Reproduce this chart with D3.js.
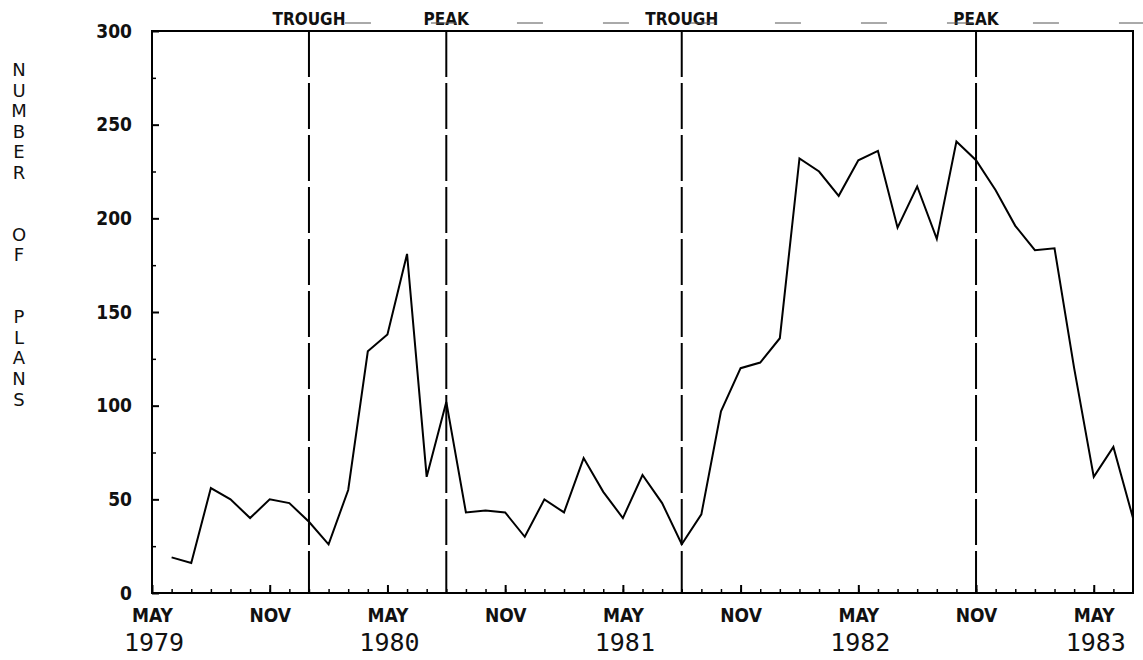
<!DOCTYPE html>
<html>
<head>
<meta charset="utf-8">
<script src="https://cdn.jsdelivr.net/npm/d3@7"></script>
<style>
  html, body { margin: 0; padding: 0; background: #fff; }
  svg { display: block; }
  .tick-lbl { font-family: "Liberation Sans Narrow", "DejaVu Sans Condensed", sans-serif; font-weight: bold; font-size: 19px; fill: #111; }
  .year-lbl { font-family: "DejaVu Sans Mono", monospace; font-size: 25px; fill: #111; }
  .ytitle { font-family: "DejaVu Sans", sans-serif; font-size: 18px; fill: #111; }
</style>
</head>
<body>
<script>
'use strict';

// monthly counts, Jun 1979 .. Jul 1983 (month index 1..50, 0 = May 1979)
const months = d3.range(1, 51);
const plans = [
  19, 16, 56, 50, 40, 50, 48, 38, 26, 55,
  129, 138, 181, 62, 102, 43, 44, 43, 30, 50,
  43, 72, 54, 40, 63, 48, 26, 42, 97, 120,
  123, 136, 232, 225, 212, 231, 236, 195, 217, 189,
  241, 231, 215, 196, 183, 184, 120, 62, 78, 40
];

// axis labels
const monthTicks = [0, 6, 12, 18, 24, 30, 36, 42, 48];
const monthTickLabels = ['MAY', 'NOV', 'MAY', 'NOV', 'MAY', 'NOV', 'MAY', 'NOV', 'MAY'];
const yearTicks = [0, 12, 24, 36, 48];
const yearLabels = ['1979', '1980', '1981', '1982', '1983'];
const yTicks = [0, 50, 100, 150, 200, 250, 300];

// business cycle turning points (month index)
const cycleMonths = [8, 15, 27, 42];
const cycleLabels = ['TROUGH', 'PEAK', 'TROUGH', 'PEAK'];

const yTitle = 'NUMBER  OF  PLANS';

const W = 1143, H = 660;
const M = { left: 152, right: 10, top: 31, bottom: 67 };

const x = d3.scaleLinear().domain([0, 50]).range([M.left, W - M.right]);
const y = d3.scaleLinear().domain([0, 300]).range([H - M.bottom, M.top]);

const svg = d3.select('body').append('svg').attr('width', W).attr('height', H);
svg.append('rect').attr('width', W).attr('height', H).attr('fill', '#fff');

// frame
svg.append('rect')
  .attr('x', x(0)).attr('y', y(300))
  .attr('width', x(50) - x(0)).attr('height', y(0) - y(300))
  .attr('fill', 'none').attr('stroke', '#000').attr('stroke-width', 2);

// y axis: major ticks with labels, minor ticks in between
const yAxis = d3.axisLeft(y).tickValues(yTicks).tickSize(-7).tickPadding(20).tickFormat(d3.format('d'));
const gy = svg.append('g').attr('transform', 'translate(' + x(0) + ',0)').call(yAxis);
gy.select('.domain').remove();
gy.selectAll('line').attr('stroke', '#000').attr('stroke-width', 2);
gy.selectAll('text').attr('class', 'tick-lbl').attr('fill', null);

const yMinor = d3.axisLeft(y).tickValues(d3.range(25, 300, 50)).tickSize(-4).tickFormat('');
const gym = svg.append('g').attr('transform', 'translate(' + x(0) + ',0)').call(yMinor);
gym.select('.domain').remove();
gym.selectAll('line').attr('stroke', '#000').attr('stroke-width', 1.5);

// x axis: monthly minor ticks, MAY/NOV major ticks
const xMinor = d3.axisBottom(x).tickValues(d3.range(1, 50)).tickSize(-4).tickFormat('');
const gxm = svg.append('g').attr('transform', 'translate(0,' + y(0) + ')').call(xMinor);
gxm.select('.domain').remove();
gxm.selectAll('line').attr('stroke', '#000').attr('stroke-width', 1.5);

const xAxis = d3.axisBottom(x).tickValues(monthTicks).tickSize(-8).tickPadding(16)
  .tickFormat((d, i) => monthTickLabels[i]);
const gx = svg.append('g').attr('transform', 'translate(0,' + y(0) + ')').call(xAxis);
gx.select('.domain').remove();
gx.selectAll('line').attr('stroke', '#000').attr('stroke-width', 2);
gx.selectAll('text').attr('class', 'tick-lbl').attr('fill', null).attr('dy', '0.35em').attr('y', 22);

svg.append('g').selectAll('text')
  .data(yearTicks)
  .enter()
  .append('text')
  .attr('class', 'year-lbl')
  .attr('x', (d) => x(d) + 2)
  .attr('y', y(0) + 58)
  .attr('text-anchor', 'middle')
  .text((d, i) => yearLabels[i]);

// y title, stacked letters
svg.append('g').selectAll('text')
  .data(yTitle.split(''))
  .enter()
  .append('text')
  .attr('class', 'ytitle')
  .attr('x', 19)
  .attr('y', (d, i) => 76 + i * 20.6)
  .attr('text-anchor', 'middle')
  .text((d) => d.trim());

// turning points
svg.append('g').selectAll('line')
  .data(cycleMonths)
  .enter()
  .append('line')
  .attr('x1', (d) => x(d)).attr('x2', (d) => x(d))
  .attr('y1', y(300)).attr('y2', y(0))
  .attr('stroke', '#000').attr('stroke-width', 2)
  .attr('stroke-dasharray', '46,6');

svg.append('g').selectAll('text')
  .data(cycleMonths)
  .enter()
  .append('text')
  .attr('class', 'tick-lbl')
  .attr('x', (d) => x(d))
  .attr('y', y(300) - 6)
  .attr('text-anchor', 'middle')
  .style('font-size', '17px')
  .text((d, i) => cycleLabels[i]);

// faint rule joining the labels above the frame
svg.append('line')
  .attr('x1', x(cycleMonths[0]) + 36).attr('x2', W)
  .attr('y1', y(300) - 8).attr('y2', y(300) - 8)
  .attr('stroke', '#555').attr('stroke-width', 1)
  .attr('stroke-dasharray', '26,60');

// series
const line = d3.line().x((d) => x(d[0])).y((d) => y(d[1]));
svg.append('path')
  .datum(months.map((m, i) => [m, plans[i]]))
  .attr('d', line)
  .attr('fill', 'none')
  .attr('stroke', '#000')
  .attr('stroke-width', 2)
  .attr('stroke-linejoin', 'miter');
</script>
</body>
</html>
